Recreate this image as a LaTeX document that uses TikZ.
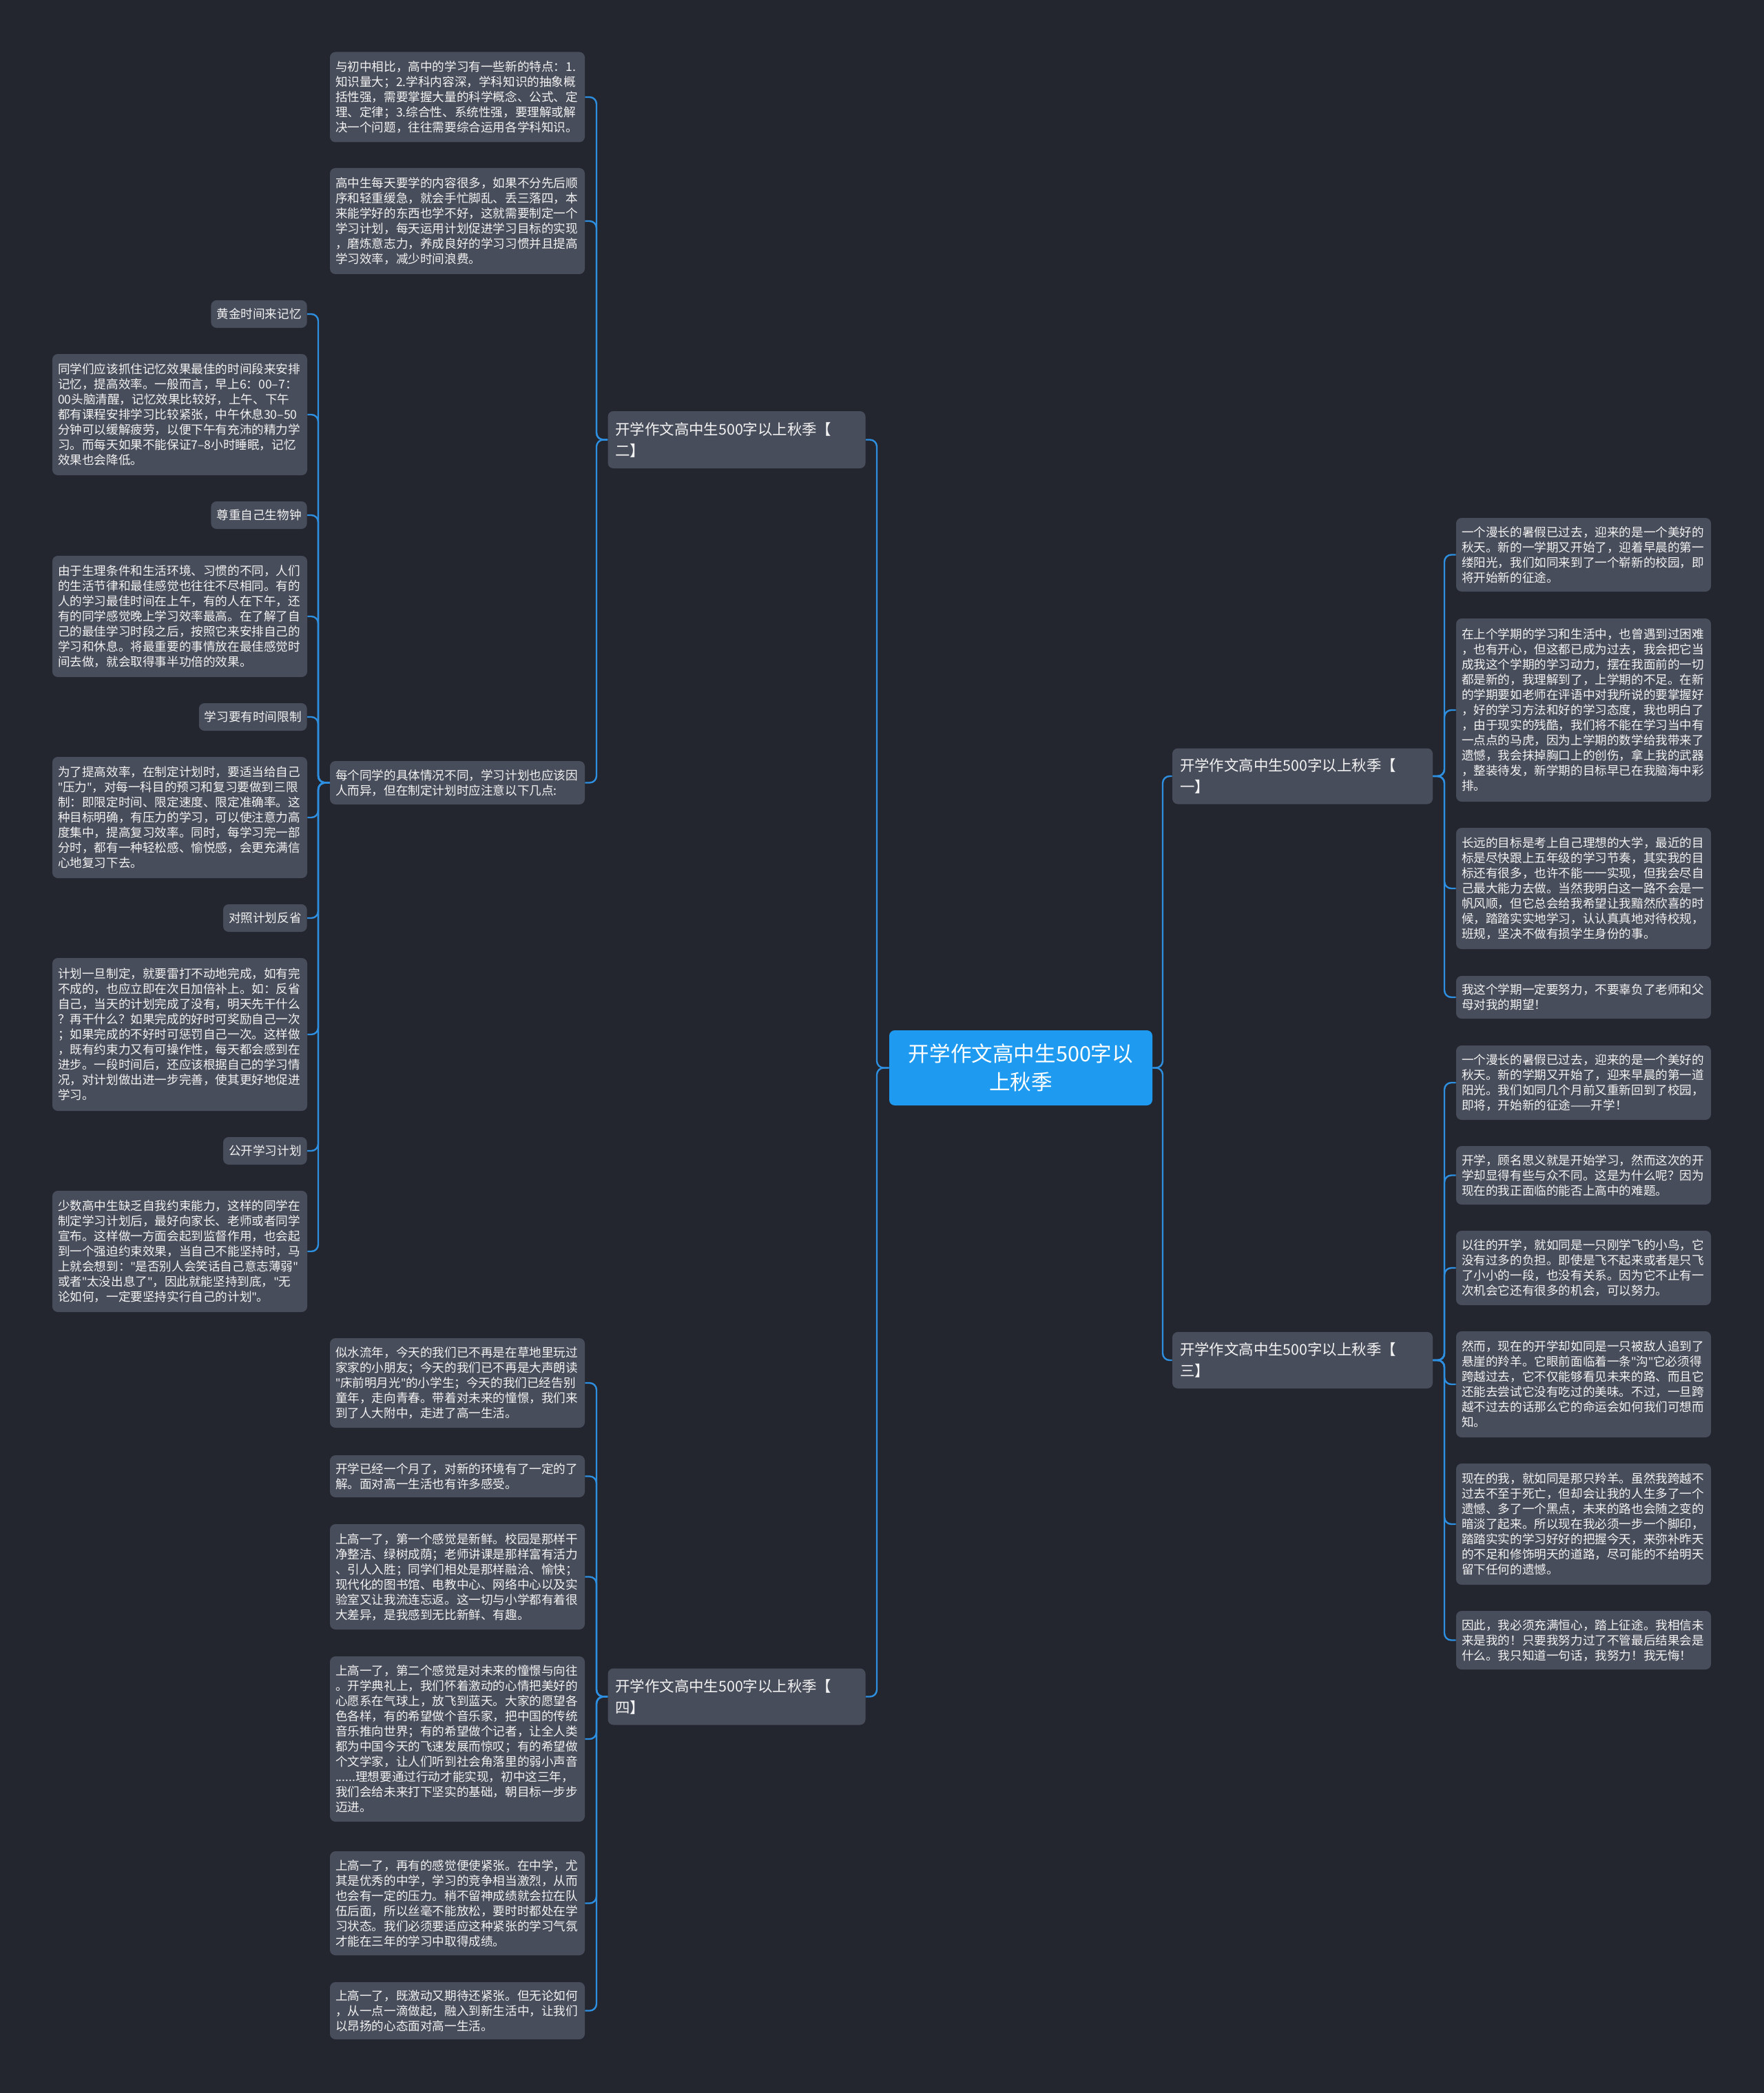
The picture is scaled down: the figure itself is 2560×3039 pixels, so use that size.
\documentclass[tikz,border=0pt]{standalone}
\usepackage{fontspec}
\setmainfont{Noto Sans CJK SC}
\newfontfamily\latf{Noto Sans}
\newcommand\dq{{\latf\char34}}
\definecolor{bgc}{HTML}{23262F}
\definecolor{nodegray}{HTML}{484D5B}
\definecolor{textc}{HTML}{F2F2F2}
\definecolor{centerblue}{HTML}{1E9BF0}
\definecolor{linec}{HTML}{2E8FE0}
\tikzset{
  base/.style={fill=nodegray, rounded corners=4pt, text=textc, font=\fontsize{8.8pt}{11pt}\selectfont, inner xsep=4pt, inner ysep=2pt},
  leaf/.style={base, text width=177pt, align=left},
  short/.style={base, anchor=east, minimum height=20pt},
  branch/.style={fill=nodegray, rounded corners=4pt, text=textc, font=\fontsize{10.7pt}{15.5pt}\selectfont, text width=176pt, align=left, inner xsep=5.5pt, inner ysep=2pt},
  centre/.style={fill=centerblue, rounded corners=4pt, text=white, font=\fontsize{15.3pt}{20.3pt}\selectfont, align=center, minimum width=191pt, minimum height=54.5pt, inner sep=2pt},
  conn/.style={draw=linec, line width=1.2pt, rounded corners=5pt}
}
\begin{document}
\begin{tikzpicture}[x=0.5pt,y=-0.5pt]
\useasboundingbox (0,0) rectangle (2560,3039);
\fill[bgc] (-20,-20) rectangle (2580,3059);

% centre
\node[centre] (ctr) at (1482,1550.5) {开学作文高中生500字以\\上秋季};

% branches
\node[branch, minimum height=41.5pt] (br2) at (1069.5,638.5) {开学作文高中生500字以上秋季【\\二】};
\node[branch, minimum height=41pt] (br4) at (1069.5,2463.5) {开学作文高中生500字以上秋季【\\四】};
\node[branch, text width=178pt, minimum height=40.5pt] (br1) at (1891,1127) {开学作文高中生500字以上秋季【\\一】};
\node[branch, text width=178pt, minimum height=41pt] (br3) at (1891,1975) {开学作文高中生500字以上秋季【\\三】};

% branch 2 children
\node[leaf, minimum height=65.5pt] (n1) at (664,141) {与初中相比，高中的学习有一些新的特点：1.\\知识量大；2.学科内容深，学科知识的抽象概\\括性强，需要掌握大量的科学概念、公式、定\\理、定律；3.综合性、系统性强，要理解或解\\决一个问题，往往需要综合运用各学科知识。};
\node[leaf, minimum height=77pt] (n2) at (664,321) {高中生每天要学的内容很多，如果不分先后顺\\序和轻重缓急，就会手忙脚乱、丢三落四，本\\来能学好的东西也学不好，这就需要制定一个\\学习计划，每天运用计划促进学习目标的实现\\，磨炼意志力，养成良好的学习习惯并且提高\\学习效率，减少时间浪费。};
\node[leaf, minimum height=31.5pt] (n3) at (664,1136.5) {每个同学的具体情况不同，学习计划也应该因\\人而异，但在制定计划时应注意以下几点:};

% n3 children
\node[short] (s1) at (446,456) {黄金时间来记忆};
\node[leaf, minimum height=88pt] (s2) at (261,602) {同学们应该抓住记忆效果最佳的时间段来安排\\记忆，提高效率。一般而言，早上6：00–7：\\00头脑清醒，记忆效果比较好，上午、下午\\都有课程安排学习比较紧张，中午休息30–50\\分钟可以缓解疲劳，以便下午有充沛的精力学\\习。而每天如果不能保证7–8小时睡眠，记忆\\效果也会降低。};
\node[short] (s3) at (446,748) {尊重自己生物钟};
\node[leaf, minimum height=88pt] (s4) at (261,895) {由于生理条件和生活环境、习惯的不同，人们\\的生活节律和最佳感觉也往往不尽相同。有的\\人的学习最佳时间在上午，有的人在下午，还\\有的同学感觉晚上学习效率最高。在了解了自\\己的最佳学习时段之后，按照它来安排自己的\\学习和休息。将最重要的事情放在最佳感觉时\\间去做，就会取得事半功倍的效果。};
\node[short] (s5) at (446,1041) {学习要有时间限制};
\node[leaf, minimum height=88pt] (s6) at (261,1187) {为了提高效率，在制定计划时，要适当给自己\\\dq 压力\dq，对每一科目的预习和复习要做到三限\\制：即限定时间、限定速度、限定准确率。这\\种目标明确，有压力的学习，可以使注意力高\\度集中，提高复习效率。同时，每学习完一部\\分时，都有一种轻松感、愉悦感，会更充满信\\心地复习下去。};
\node[short] (s7) at (446,1333) {对照计划反省};
\node[leaf, minimum height=111pt] (s8) at (261,1502) {计划一旦制定，就要雷打不动地完成，如有完\\不成的，也应立即在次日加倍补上。如：反省\\自己，当天的计划完成了没有，明天先干什么\\？再干什么？如果完成的好时可奖励自己一次\\；如果完成的不好时可惩罚自己一次。这样做\\，既有约束力又有可操作性，每天都会感到在\\进步。一段时间后，还应该根据自己的学习情\\况，对计划做出进一步完善，使其更好地促进\\学习。};
\node[short] (s9) at (446,1671) {公开学习计划};
\node[leaf, minimum height=88pt] (s10) at (261,1817) {少数高中生缺乏自我约束能力，这样的同学在\\制定学习计划后，最好向家长、老师或者同学\\宣布。这样做一方面会起到监督作用，也会起\\到一个强迫约束效果，当自己不能坚持时，马\\上就会想到：\dq 是否别人会笑话自己意志薄弱\dq\\或者\dq 太没出息了\dq，因此就能坚持到底，\dq 无\\论如何，一定要坚持实行自己的计划\dq。};

% branch 4 children
\node[leaf, minimum height=65pt] (b1) at (664,2008) {似水流年，今天的我们已不再是在草地里玩过\\家家的小朋友；今天的我们已不再是大声朗读\\\dq 床前明月光\dq 的小学生；今天的我们已经告别\\童年，走向青春。带着对未来的憧憬，我们来\\到了人大附中，走进了高一生活。};
\node[leaf, minimum height=30.5pt] (b2) at (664,2143.5) {开学已经一个月了，对新的环境有了一定的了\\解。面对高一生活也有许多感受。};
\node[leaf, minimum height=76.5pt] (b3) at (664,2289.5) {上高一了，第一个感觉是新鲜。校园是那样干\\净整洁、绿树成荫；老师讲课是那样富有活力\\、引人入胜；同学们相处是那样融洽、愉快；\\现代化的图书馆、电教中心、网络中心以及实\\验室又让我流连忘返。这一切与小学都有着很\\大差异，是我感到无比新鲜、有趣。};
\node[leaf, minimum height=120pt] (b4) at (664,2525) {上高一了，第二个感觉是对未来的憧憬与向往\\。开学典礼上，我们怀着激动的心情把美好的\\心愿系在气球上，放飞到蓝天。大家的愿望各\\色各样，有的希望做个音乐家，把中国的传统\\音乐推向世界；有的希望做个记者，让全人类\\都为中国今天的飞速发展而惊叹；有的希望做\\个文学家，让人们听到社会角落里的弱小声音\\......理想要通过行动才能实现，初中这三年，\\我们会给未来打下坚实的基础，朝目标一步步\\迈进。};
\node[leaf, minimum height=75.5pt] (b5) at (664,2763.5) {上高一了，再有的感觉便使紧张。在中学，尤\\其是优秀的中学，学习的竞争相当激烈，从而\\也会有一定的压力。稍不留神成绩就会拉在队\\伍后面，所以丝毫不能放松，要时时都处在学\\习状态。我们必须要适应这种紧张的学习气氛\\才能在三年的学习中取得成绩。};
\node[leaf, minimum height=41.5pt] (b6) at (664,2919.5) {上高一了，既激动又期待还紧张。但无论如何\\，从一点一滴做起，融入到新生活中，让我们\\以昂扬的心态面对高一生活。};

% branch 1 children
\node[leaf, minimum height=53.5pt] (r1a) at (2299,805.5) {一个漫长的暑假已过去，迎来的是一个美好的\\秋天。新的一学期又开始了，迎着早晨的第一\\缕阳光，我们如同来到了一个崭新的校园，即\\将开始新的征途。};
\node[leaf, minimum height=133pt] (r1b) at (2299,1031) {在上个学期的学习和生活中，也曾遇到过困难\\，也有开心，但这都已成为过去，我会把它当\\成我这个学期的学习动力，摆在我面前的一切\\都是新的，我理解到了，上学期的不足。在新\\的学期要如老师在评语中对我所说的要掌握好\\，好的学习方法和好的学习态度，我也明白了\\，由于现实的残酷，我们将不能在学习当中有\\一点点的马虎，因为上学期的数学给我带来了\\遗憾，我会抹掉胸口上的创伤，拿上我的武器\\，整装待发，新学期的目标早已在我脑海中彩\\排。};
\node[leaf, minimum height=88pt] (r1c) at (2299,1290) {长远的目标是考上自己理想的大学，最近的目\\标是尽快跟上五年级的学习节奏，其实我的目\\标还有很多，也许不能一一实现，但我会尽自\\己最大能力去做。当然我明白这一路不会是一\\帆风顺，但它总会给我希望让我黯然欣喜的时\\候，踏踏实实地学习，认认真真地对待校规，\\班规，坚决不做有损学生身份的事。};
\node[leaf, minimum height=31pt] (r1d) at (2299,1448) {我这个学期一定要努力，不要辜负了老师和父\\母对我的期望！};

% branch 3 children
\node[leaf, minimum height=54pt] (r3a) at (2299,1572) {一个漫长的暑假已过去，迎来的是一个美好的\\秋天。新的学期又开始了，迎来早晨的第一道\\阳光。我们如同几个月前又重新回到了校园，\\即将，开始新的征途——开学！};
\node[leaf, minimum height=42.5pt] (r3b) at (2299,1706.5) {开学，顾名思义就是开始学习，然而这次的开\\学却显得有些与众不同。这是为什么呢？因为\\现在的我正面临的能否上高中的难题。};
\node[leaf, minimum height=54pt] (r3c) at (2299,1841) {以往的开学，就如同是一只刚学飞的小鸟，它\\没有过多的负担。即使是飞不起来或者是只飞\\了小小的一段，也没有关系。因为它不止有一\\次机会它还有很多的机会，可以努力。};
\node[leaf, minimum height=77pt] (r3d) at (2299,2010) {然而，现在的开学却如同是一只被敌人追到了\\悬崖的羚羊。它眼前面临着一条\dq 沟\dq 它必须得\\跨越过去，它不仅能够看见未来的路、而且它\\还能去尝试它没有吃过的美味。不过，一旦跨\\越不过去的话那么它的命运会如何我们可想而\\知。};
\node[leaf, minimum height=88pt] (r3e) at (2299,2213) {现在的我，就如同是那只羚羊。虽然我跨越不\\过去不至于死亡，但却会让我的人生多了一个\\遗憾、多了一个黑点，未来的路也会随之变的\\暗淡了起来。所以现在我必须一步一个脚印，\\踏踏实实的学习好好的把握今天，来弥补昨天\\的不足和修饰明天的道路，尽可能的不给明天\\留下任何的遗憾。};
\node[leaf, minimum height=42.5pt] (r3f) at (2299,2381.5) {因此，我必须充满恒心，踏上征途。我相信未\\来是我的！只要我努力过了不管最后结果会是\\什么。我只知道一句话，我努力！我无悔！};

% bus coordinates
\coordinate (cL) at (1273,1550.5);
\coordinate (cR) at (1688,1550.5);
\coordinate (bus2) at (866,638.5);
\coordinate (bus4) at (866,2463.5);
\coordinate (bus3) at (462,1136.5);
\coordinate (bus1) at (2097,1127);
\coordinate (bus5) at (2097,1975);

% connectors
\foreach \b in {br2,br4} \draw[conn] (\b.east) -| (cL) -- (ctr.west);
\foreach \b in {br1,br3} \draw[conn] (\b.west) -| (cR) -- (ctr.east);
\foreach \c in {n1,n2,n3} \draw[conn] (\c.east) -| (bus2) -- (br2.west);
\foreach \c in {s1,s2,s3,s4,s5,s6,s7,s8,s9,s10} \draw[conn] (\c.east) -| (bus3) -- (n3.west);
\foreach \c in {b1,b2,b3,b4,b5,b6} \draw[conn] (\c.east) -| (bus4) -- (br4.west);
\foreach \c in {r1a,r1b,r1c,r1d} \draw[conn] (\c.west) -| (bus1) -- (br1.east);
\foreach \c in {r3a,r3b,r3c,r3d,r3e,r3f} \draw[conn] (\c.west) -| (bus5) -- (br3.east);
\end{tikzpicture}
\end{document}
